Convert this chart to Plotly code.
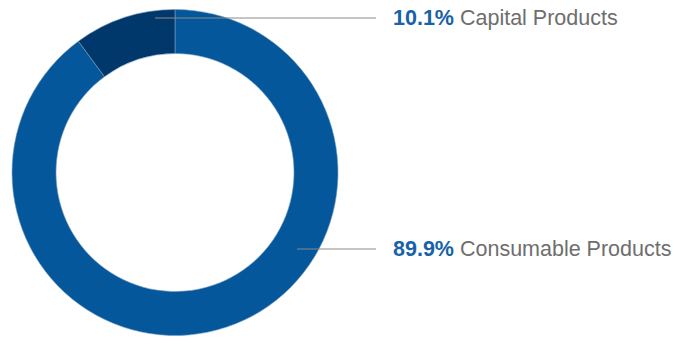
import plotly.graph_objects as go

labels = ["Consumable Products", "Capital Products"]
values = [89.9, 10.1]
colors = ["#03579A", "#00386B"]

W, H = 694, 337
cx, cy, R = 175, 172.5, 163

def px(x):
    return x / W

def py(y):
    return 1 - y / H

fig = go.Figure(go.Pie(
    labels=labels, values=values, hole=0.73, sort=False,
    direction="clockwise", rotation=0,
    marker=dict(colors=colors, line=dict(color="#7f9fbf", width=0.6)),
    textinfo="none", hoverinfo="none", showlegend=False,
    domain=dict(x=[px(cx - R), px(cx + R)], y=[py(cy + R), py(cy - R)]),
))

# leader lines and labels
label_pos = {"Capital Products": (155, 18), "Consumable Products": (297, 249)}
shapes, annotations = [], []
for lab, val in zip(labels, values):
    x0, y0 = label_pos[lab]
    shapes.append(dict(type="line", xref="paper", yref="paper",
                       x0=px(x0), x1=px(376), y0=py(y0), y1=py(y0),
                       line=dict(color="#8c8c8c", width=1.2)))
    annotations.append(dict(
        xref="paper", yref="paper", x=px(391), y=py(y0),
        xanchor="left", yanchor="middle", showarrow=False,
        text=f"<b><span style='color:#1762A8'>{val:.1f}%</span></b> {lab}",
        font=dict(family="Liberation Sans, Arial, sans-serif", size=21.5, color="#6e6e6e"),
    ))

fig.update_layout(width=W, height=H, margin=dict(l=0, r=0, t=0, b=0),
                  paper_bgcolor="white", plot_bgcolor="white",
                  shapes=shapes, annotations=annotations)

fig.write_html("out.html")
